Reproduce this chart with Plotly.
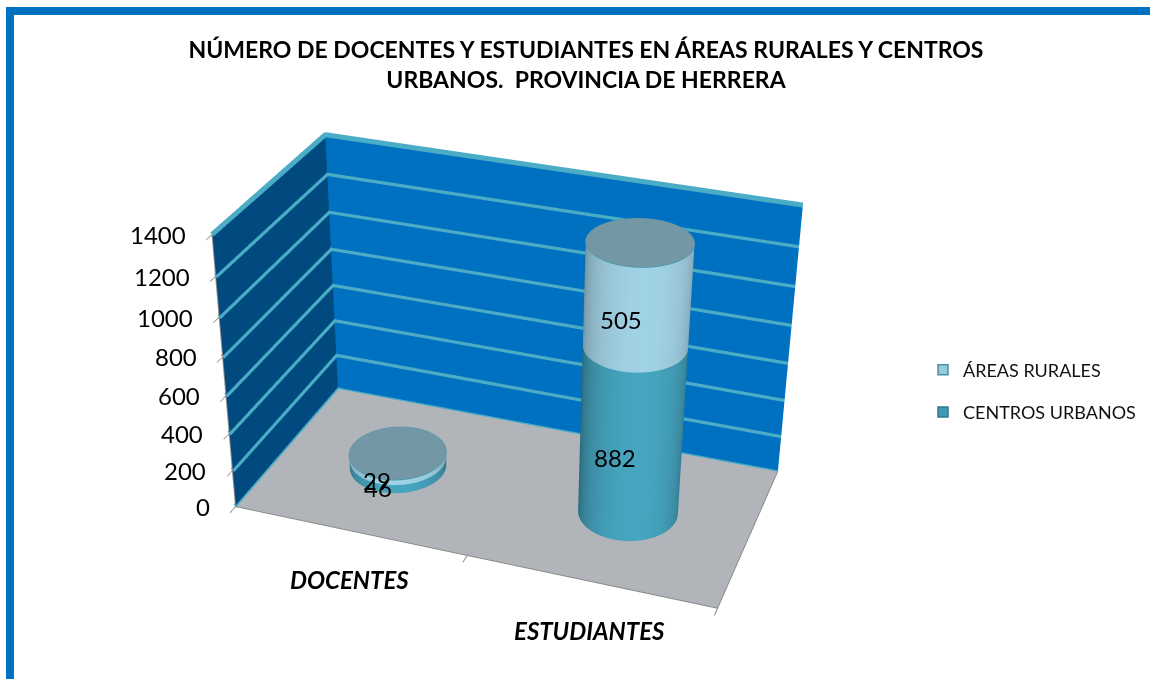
import numpy as np
import plotly.graph_objects as go

# ---- data
categorias = ["DOCENTES", "ESTUDIANTES"]
areas_rurales = [29, 505]
centros_urbanos = [46, 882]
z_ticks = [0, 200, 400, 600, 800, 1000, 1200, 1400]
titulo = "NÚMERO DE DOCENTES Y ESTUDIANTES EN ÁREAS RURALES Y CENTROS<br>URBANOS.  PROVINCIA DE HERRERA"

# ---- page geometry: the 3D viewport is larger than the visible window so its
# field of view matches the narrow perspective of the original chart
W, H = 1150, 679
OX, OY = 129, 339      # hidden part of the figure at left and top
FW, FH = 1280, 1572
def px(x): return (x + OX) / FW
def py(y): return 1 - (y + OY) / FH

LIT = dict(ambient=1, diffuse=0, specular=0, roughness=1, fresnel=0)
RX, RY = 0.2, 0.205
YC = 0.5
N = 90
th = np.linspace(0, 2*np.pi, N)

def side(xc, z0, z1, dark, light):
    X = np.vstack([xc + RX*np.cos(th)]*2)
    Y = np.vstack([YC + RY*np.sin(th)]*2)
    Z = np.vstack([np.full(N, z0), np.full(N, z1)])
    s = np.clip(-np.sin(th - 0.42), 0, 1) ** 0.8
    return go.Surface(x=X, y=Y, z=Z, surfacecolor=np.vstack([s, s]), cmin=0, cmax=1,
                      colorscale=[[0, dark], [1, light]], showscale=False,
                      lighting=LIT, hoverinfo="skip", showlegend=False)

def cap(xc, z, color="#7497a6"):
    r = np.linspace(0, 1, 2)[:, None]
    X = xc + RX*r*np.cos(th)[None, :]
    Y = YC + RY*r*np.sin(th)[None, :]
    Z = np.full_like(X, z)
    return go.Surface(x=X, y=Y, z=Z, surfacecolor=np.zeros_like(Z), cmin=0, cmax=1,
                      colorscale=[[0, color], [1, color]], showscale=False,
                      lighting=LIT, hoverinfo="skip", showlegend=False)

traces = []
# wall gridlines, wider than the scene's own grid can draw
for z in z_ticks:
    traces.append(go.Scatter3d(x=[0, 0, 2], y=[0, 1, 1], z=[z, z, z], mode="lines",
                               line=dict(color="#4bacc6", width=10), hoverinfo="skip", showlegend=False))

for i, cat in enumerate(categorias):
    xc = i + 0.5
    u, rr = centros_urbanos[i], areas_rurales[i]
    traces.append(side(xc, 0, u, "#2a6678", "#46a5bf"))
    traces.append(side(xc, u, u + rr, "#74909c", "#a0d2e5"))
    traces.append(cap(xc, u + rr))
    traces.append(go.Scatter3d(x=xc + RX*np.cos(th), y=YC + RY*np.sin(th), z=np.full(N, u + rr),
                               mode="lines", line=dict(color="#4f96ab", width=2),
                               hoverinfo="skip", showlegend=False))

for name, col, edge in [("ÁREAS RURALES", "#93cddd", "#4f8fa5"), ("CENTROS URBANOS", "#4198b0", "#31788c")]:
    traces.append(go.Scatter3d(x=[None], y=[None], z=[None], mode="markers", name=name, legendgroup=name,
                               marker=dict(symbol="square", size=10, color=col, line=dict(color=edge, width=1.5))))

ann = []
FONT = dict(size=24, color="black", family="Lato")
for i in range(2):
    u, rr = centros_urbanos[i], areas_rurales[i]
    xs = i + 0.5
    ann.append(dict(x=xs, y=YC - RY, z=u/2, text=str(u), showarrow=False, font=FONT, xshift=-1))
    ann.append(dict(x=xs, y=YC - RY, z=u + rr/2, text=str(rr), showarrow=False, font=FONT, xshift=-1))
for z in z_ticks:
    ann.append(dict(x=0, y=0, z=z, text=str(z), showarrow=False, font=FONT, xanchor="right", xshift=-24))
for i, cat in enumerate(categorias):
    ann.append(dict(x=i + 0.5, y=0, z=0, text="<b><i>" + cat + "</i></b>", showarrow=False,
                    font=dict(size=24, color="black", family="Lato"), yshift=-49))

fig = go.Figure(traces)
fig.update_layout(
    width=FW, height=FH, margin=dict(l=0, r=0, t=0, b=0, autoexpand=False),
    paper_bgcolor="white", showlegend=True,
    title=dict(text="<b>" + titulo + "</b>", x=px(586), xanchor="center", xref="paper", y=py(58), yanchor="top",
               font=dict(family="Lato", size=23, color="black")),
    legend=dict(x=px(923), y=py(391), xanchor="left", yanchor="middle", font=dict(family="Lato", size=18, color="#111"),
                bgcolor="rgba(0,0,0,0)", tracegroupgap=16),
    shapes=[dict(type="rect", xref="paper", yref="paper", x0=px(6), x1=px(14), y0=py(H), y1=py(7), fillcolor="#0070c0", line_width=0),
            dict(type="rect", xref="paper", yref="paper", x0=px(6), x1=px(W), y0=py(15), y1=py(7), fillcolor="#0070c0", line_width=0)],
    scene=dict(
        domain=dict(x=[0, 1], y=[0, 1]),
        aspectmode="manual", aspectratio=dict(x=1.654, y=0.837, z=1.0),
        camera=dict(eye=dict(x=1.792, y=-5.082, z=3.021),
                    center=dict(x=0.002, y=-0.008, z=-0.329),
                    up=dict(x=-0.336, y=0.929, z=1)),
        xaxis=dict(range=[0, 2], tickvals=[0, 1, 2], title="", showgrid=False, zeroline=False, showticklabels=False,
                   showbackground=True, backgroundcolor="#004a80", showline=True, linecolor="#8a8a8a", linewidth=2,
                   ticks="outside", ticklen=8, tickwidth=2, tickcolor="#8a8a8a", showspikes=False),
        yaxis=dict(range=[0, 1], tickvals=[], title="", showgrid=False, zeroline=False, showticklabels=False,
                   showbackground=True, backgroundcolor="#0070c0", showline=True, linecolor="#8a8a8a", linewidth=2,
                   ticks="", showspikes=False),
        zaxis=dict(range=[0, 1400], tickvals=z_ticks, title="", showgrid=False, zeroline=False, showticklabels=False,
                   showbackground=True, backgroundcolor="#b1b5b9", showline=True, linecolor="#8a8a8a", linewidth=2,
                   ticks="outside", ticklen=8, tickwidth=2, tickcolor="#8a8a8a", showspikes=False),
        annotations=ann,
    ),
)
post = ("document.documentElement.style.cssText='width:1150px;height:679px;overflow:hidden';"
        "document.body.style.cssText='margin:-%dpx 0 0 -%dpx;overflow:hidden;width:%dpx;height:%dpx';" % (OY, OX, FW, FH))
fig.write_html("out.html", post_script=post, config=dict(displayModeBar=False))
